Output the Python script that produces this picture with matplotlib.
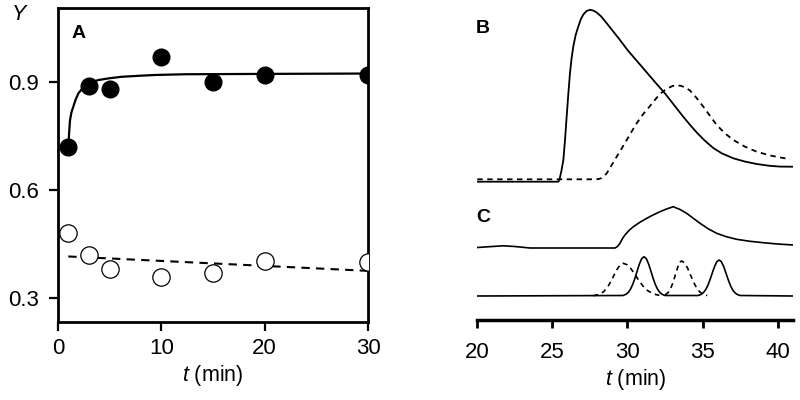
import matplotlib
matplotlib.use('Agg')
import matplotlib.pyplot as plt

plt.rcParams['font.family'] = ['Liberation Sans', 'DejaVu Sans']
plt.rcParams['mathtext.fontset'] = 'custom'
plt.rcParams['mathtext.rm'] = 'Liberation Sans'
plt.rcParams['mathtext.it'] = 'Liberation Sans:italic'

# Panel A: yield vs time
t_points = [1, 3, 5, 10, 15, 20, 30]
y_filled = [0.72, 0.888, 0.879, 0.969, 0.90, 0.918, 0.918]
y_open = [0.48, 0.419, 0.379, 0.358, 0.369, 0.402, 0.40]

fit_t = [1.0, 1.08, 1.16, 1.3, 1.48, 1.7, 1.97, 2.35, 2.78, 3.3, 3.9, 5.0, 6.17, 8.0,
         9.4, 12.3, 20, 30]
fit_y = [0.72, 0.76, 0.793, 0.815, 0.831, 0.85, 0.868, 0.881, 0.891, 0.899, 0.905, 0.91,
         0.914, 0.917, 0.919, 0.921, 0.922, 0.923]
dash_t = [1, 30]
dash_y = [0.415, 0.375]

# Panel B: elution profiles (arbitrary units)
b_solid_t = [20, 25.39, 25.45, 25.51, 25.6, 25.73, 25.84, 25.95, 26.06, 26.17,
             26.28, 26.39, 26.55, 26.72, 26.9, 27.06, 27.28, 27.5, 27.72, 27.95,
             28.25, 28.62, 29.0, 29.5, 30.0, 30.6, 31.2, 31.8, 32.5, 33.1,
             33.71, 34.2, 34.61, 35.1, 35.71, 36.3, 37.05, 37.8, 38.6, 39.4,
             40.15, 41.04]
b_solid_h = [138.3, 138.3, 139.5, 143, 149, 160, 180, 203.3, 226, 246.7,
             262, 273.3, 285, 293.3, 301, 305.5, 309, 310.2, 309.5, 307.5,
             303.5, 296.7, 289.5, 280, 270, 259.5, 249, 238.5, 226.5, 215,
             203.3, 194.5, 187.5, 180, 172, 166.5, 161.7, 158.5, 156, 154.3,
             153.4, 153.3]
b_dash_t = [20, 27.9, 28.1, 28.28, 28.45, 28.62, 28.95, 29.28, 29.62, 29.95,
            30.28, 30.61, 31.05, 31.5, 31.85, 32.16, 32.45, 32.72, 33.0, 33.27,
            33.55, 33.85, 34.16, 34.6, 35.05, 35.5, 35.94, 36.5, 37.05, 37.8,
            38.6, 39.5, 40.82]
b_dash_h = [140.7, 140.7, 141, 142, 144, 146.7, 155, 163.3, 171.7, 180,
            188.5, 196.7, 206, 214, 220.5, 226, 229.5, 232, 234, 234.7,
            234.2, 232.5, 229.5, 222, 213.3, 204, 195, 186.5, 180, 173.5,
            168.3, 164.5, 160.7]

# Panel C: upper trace
c_top_t = [20, 21, 21.73, 22.5, 23.5, 29.17, 29.33, 29.5, 29.65, 29.83,
           30.1, 30.39, 30.8, 31.28, 31.7, 32.16, 32.6, 33.05, 33.5, 33.94,
           34.4, 34.83, 35.4, 35.94, 36.6, 37.27, 38.1, 39.04, 40.0, 41.04]
c_top_h = [72.5, 73.5, 74.2, 73.5, 72, 72, 73.5, 76.7, 81, 85,
           89.5, 93.3, 97.5, 101.7, 105, 108.3, 111, 113.3, 110.5, 106.7,
           101.5, 96.7, 91, 86.7, 83.2, 80.7, 78.8, 77.3, 76, 75]

# Panel C: lower solid trace with two peaks
c_low_t = [20,
           29.7, 29.9, 30.05, 30.2, 30.35, 30.5, 30.65, 30.8, 30.95, 31.1,
           31.25, 31.4, 31.55, 31.7, 31.85, 32.0, 32.15, 32.3, 32.5,
           34.7, 34.9, 35.05, 35.2, 35.35, 35.5, 35.65, 35.8, 35.95, 36.1,
           36.25, 36.4, 36.55, 36.7, 36.85, 37.0, 37.15, 37.3, 37.5,
           41.04]
c_low_h = [24,
           24.5, 25.7, 27.6, 30.8, 35.6, 42, 49.3, 56.3, 61.4, 63.3,
           61.4, 56.3, 49.3, 42, 35.6, 30.8, 27.6, 25.7, 24.5,
           24.5, 25.6, 27.3, 30.2, 34.6, 40.5, 47.2, 53.6, 58.3, 60,
           58.3, 53.6, 47.2, 40.5, 34.6, 30.2, 27.3, 25.6, 24.5,
           24]

# Panel C: dashed peaks
c_d1_t = [27.72, 28.12, 28.42, 28.72, 28.92, 29.12, 29.32, 29.52, 29.72,
          29.97, 30.22, 30.47, 30.72, 31.02, 31.32, 31.72, 32.12]
c_d1_h = [24.3, 25.6, 28.4, 34.0, 39.3, 45.4, 51.0, 55.2, 56.7,
          55.3, 51.5, 46.2, 40.4, 34.1, 29.6, 26.1, 24.6]
c_d2_t = [32.51, 32.71, 32.86, 33.01, 33.16, 33.31, 33.46, 33.61,
          33.81, 34.01, 34.21, 34.41, 34.61, 34.81, 35.06, 35.31]
c_d2_h = [25.1, 27.5, 31.1, 36.6, 43.7, 51.1, 57.8, 59,
          57.0, 51.6, 44.5, 37.5, 31.9, 28.1, 25.5, 24.5]

fig = plt.figure(figsize=(8, 4), dpi=100)

# ---- panel A
ax = fig.add_axes([58 / 800, 78 / 400, 310 / 800, 314 / 400])
ax.plot(fit_t, fit_y, color='black', lw=1.6, zorder=2)
ax.plot(dash_t, dash_y, color='black', lw=1.5, ls=(0, (4, 3)), zorder=2)
ax.plot(t_points, y_filled, 'o', color='black', ms=12, zorder=3)
ax.plot(t_points, y_open, 'o', mfc='white', mec='black', mew=0.9, ms=12.5, zorder=3)
ax.set_xlim(0, 30)
ax.set_ylim(0.233, 1.105)
ax.set_xticks([0, 10, 20, 30])
ax.set_yticks([0.3, 0.6, 0.9])
ax.set_yticklabels(['0.3', '0.6', '0.9'])
ax.tick_params(direction='out', length=6.5, width=1.6, labelsize=16, top=False, right=False)
ax.tick_params(axis='x', pad=5)
ax.tick_params(axis='y', pad=7)
for s in ax.spines.values():
    s.set_linewidth(2)
ax.set_xlabel(r'$t$ (min)', fontsize=15.5, labelpad=3)
fig.text(72 / 800, 1 - 33 / 400, 'A', fontsize=14, fontweight='bold', va='center', ha='left')
fig.text(19 / 800, 1 - 15 / 400, 'Y', fontsize=15.5, style='italic', ha='center', va='center')

# ---- panels B and C
ax2 = fig.add_axes([477.3 / 800, 80 / 400, 316 / 800, 320 / 400])
ax2.plot(b_solid_t, b_solid_h, color='black', lw=1.3)
ax2.plot(b_dash_t, b_dash_h, color='black', lw=1.3, ls=(0, (3, 2.5)))
ax2.plot(c_top_t, c_top_h, color='black', lw=1.2)
ax2.plot(c_low_t, c_low_h, color='black', lw=1.2)
ax2.plot(c_d1_t, c_d1_h, color='black', lw=1.2, ls=(0, (3, 2.5)))
ax2.plot(c_d2_t, c_d2_h, color='black', lw=1.2, ls=(0, (3, 2.5)))
ax2.set_xlim(20, 41.04)
ax2.set_ylim(0, 320)
ax2.set_xticks([20, 25, 30, 35, 40])
ax2.set_yticks([])
for side in ['left', 'right', 'top']:
    ax2.spines[side].set_visible(False)
ax2.spines['bottom'].set_linewidth(2.5)
ax2.tick_params(axis='x', direction='out', length=6, width=2, labelsize=16, pad=10)
ax2.patch.set_alpha(0)
ax2.set_xlabel(r'$t$ (min)', fontsize=15.5, labelpad=3)
fig.text(476 / 800, 1 - 28.5 / 400, 'B', fontsize=14, fontweight='bold', ha='left', va='center')
fig.text(476 / 800, 1 - 217.5 / 400, 'C', fontsize=14, fontweight='bold', ha='left', va='center')

fig.savefig('out.png', dpi=100)
